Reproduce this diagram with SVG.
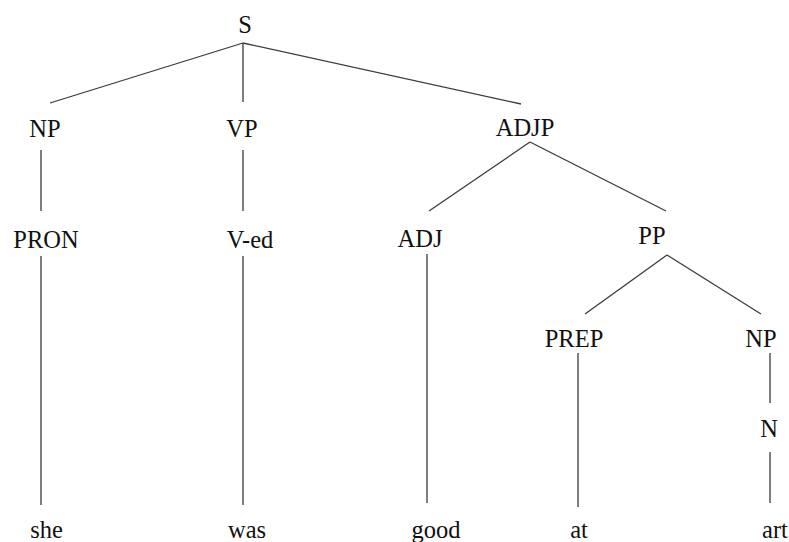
<svg xmlns="http://www.w3.org/2000/svg" width="789" height="542" viewBox="0 0 789 542">
<style>
.e line{stroke:#3a3a3a;stroke-width:1.3}
</style>
<rect width="789" height="542" fill="#fff"/>
<g class="e" id="edges">
<line x1="243" y1="43" x2="50" y2="103"/>
<line x1="243" y1="43" x2="243" y2="102"/>
<line x1="243" y1="43" x2="521" y2="104"/>
<line x1="41" y1="150" x2="41" y2="211"/>
<line x1="243" y1="150" x2="243" y2="211"/>
<line x1="530" y1="142" x2="429" y2="211"/>
<line x1="530" y1="142" x2="666" y2="211"/>
<line x1="41" y1="256" x2="41" y2="505"/>
<line x1="243" y1="256" x2="243" y2="505"/>
<line x1="427" y1="254" x2="427" y2="503"/>
<line x1="667" y1="255" x2="585" y2="314"/>
<line x1="667" y1="255" x2="761" y2="314"/>
<line x1="578" y1="353" x2="578" y2="507"/>
<line x1="770" y1="353" x2="770" y2="403"/>
<line x1="770" y1="452" x2="770" y2="503"/>
</g>
<g font-family="Liberation Serif, Times New Roman, DejaVu Serif, serif" font-size="24.5" fill="#111" text-anchor="middle">
<g id="S"><text x="245" y="33">S</text></g>
<g id="NP1"><text x="45" y="137">NP</text></g>
<g id="VP"><text x="242" y="137">VP</text></g>
<g id="ADJP"><text x="525" y="136">ADJP</text></g>
<g id="PRON"><text x="46" y="248">PRON</text></g>
<g id="Ved"><text x="250" y="248">V-ed</text></g>
<g id="ADJ"><text x="420" y="247">ADJ</text></g>
<g id="PP"><text x="652" y="244">PP</text></g>
<g id="PREP"><text x="574" y="347">PREP</text></g>
<g id="NP2"><text x="761" y="347">NP</text></g>
<g id="N"><text x="769" y="437">N</text></g>
<g id="she"><text x="46.5" y="538">she</text></g>
<g id="was"><text x="247" y="538">was</text></g>
<g id="good"><text x="436" y="538">good</text></g>
<g id="at"><text x="579" y="538">at</text></g>
<g id="art"><text x="775" y="538">art</text></g>
</g>
</svg>
